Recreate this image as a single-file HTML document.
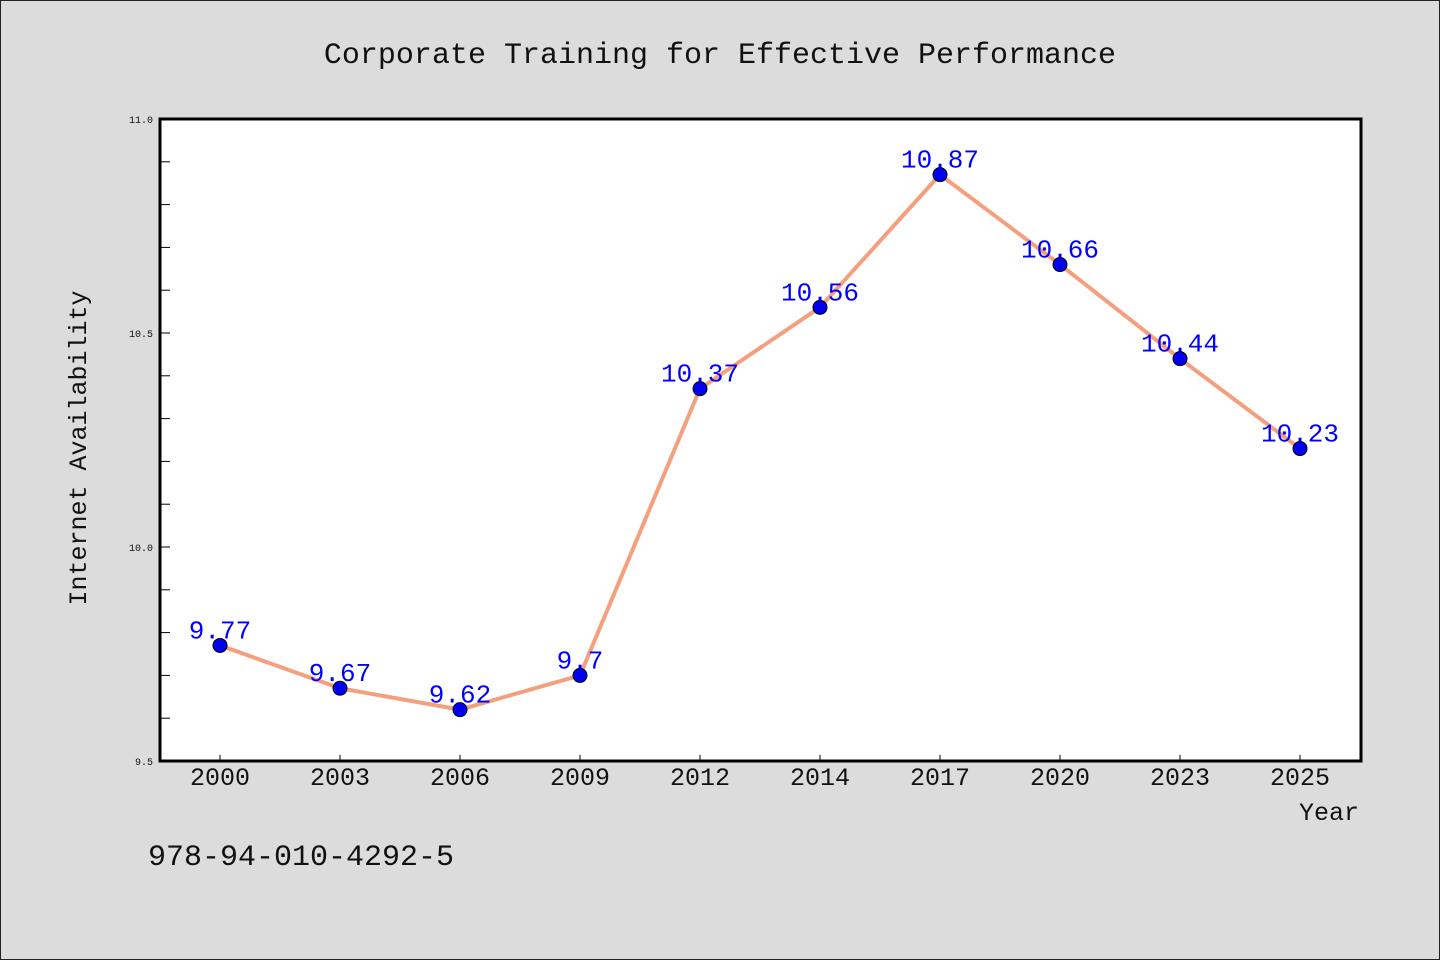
<!DOCTYPE html>
<html><head><meta charset="utf-8"><style>
body{margin:0;background:#dcdcdc;}
svg{display:block;font-family:"WenQuanYi Zen Hei Mono","Liberation Mono","DejaVu Sans Mono",monospace;}
</style></head><body>
<svg id="c" width="1440" height="960">
<rect x="0.5" y="0.5" width="1439" height="959" fill="#dcdcdc" stroke="#222"/>
<text x="720" y="63" text-anchor="middle" font-size="30" fill="#111">Corporate Training for Effective Performance</text>
<rect x="160" y="119" width="1201" height="642" fill="#fff"/>
<g id="ax"></g>
<rect x="160" y="119" width="1201" height="642" fill="none" stroke="#000" stroke-width="3"/>
<text x="86" y="448" transform="rotate(-90 86 448)" text-anchor="middle" font-size="25" fill="#111">Internet Availability</text>
<text x="1359" y="820" text-anchor="end" font-size="25" fill="#111">Year</text>
<text x="148" y="865" font-size="30" fill="#111">978-94-010-4292-5</text>
</svg>
<script>
const categories=["2000","2003","2006","2009","2012","2014","2017","2020","2023","2025"];
const values=[9.77,9.67,9.62,9.7,10.37,10.56,10.87,10.66,10.44,10.23];
const yTicks=[9.5,10.0,10.5,11.0];
const ns="http://www.w3.org/2000/svg";
const g=document.getElementById("ax");
const L=160,R=1361,T=119,B=761,ymin=9.5,ymax=11.0;
const xs=i=>220+i*(1080/(categories.length-1));
const ys=v=>B-(v-ymin)/(ymax-ymin)*(B-T);
function mk(t,a){const e=document.createElementNS(ns,t);for(const k in a)e.setAttribute(k,a[k]);g.appendChild(e);return e;}
for(let v=ymin+0.1;v<ymax-0.05;v+=0.1){
 const l=mk("line",{x1:L,x2:L+10,y1:ys(v),y2:ys(v),stroke:"#000","stroke-width":1});
 
 
}
yTicks.forEach(v=>{
 const t=mk("text",{x:153,y:ys(v)+4,"text-anchor":"end","font-size":10,fill:"#111"});
 t.textContent=v.toFixed(1);
 
 
});
categories.forEach((c,i)=>{
 const l=mk("line",{x1:xs(i),x2:xs(i),y1:B,y2:B-6,stroke:"#000","stroke-width":1});
 
 
 const t=mk("text",{x:xs(i),y:785,"text-anchor":"middle","font-size":25,fill:"#111"});
 t.textContent=c;
 
 
});
const line=mk("polyline",{points:values.map((v,i)=>xs(i)+","+ys(v)).join(" "),fill:"none",stroke:"#f4a07e","stroke-width":4,"stroke-linejoin":"round"});


values.forEach((v,i)=>{
 const c=mk("circle",{cx:xs(i),cy:ys(v),r:7,fill:"#0000ee",stroke:"#000","stroke-width":1});
 
 
});
values.forEach((v,i)=>{
 const t=mk("text",{x:xs(i),y:ys(v)-7,"text-anchor":"middle","font-size":26,fill:"#0000ff"});
 t.textContent=String(v);
 
 
});
</script>
</body></html>
